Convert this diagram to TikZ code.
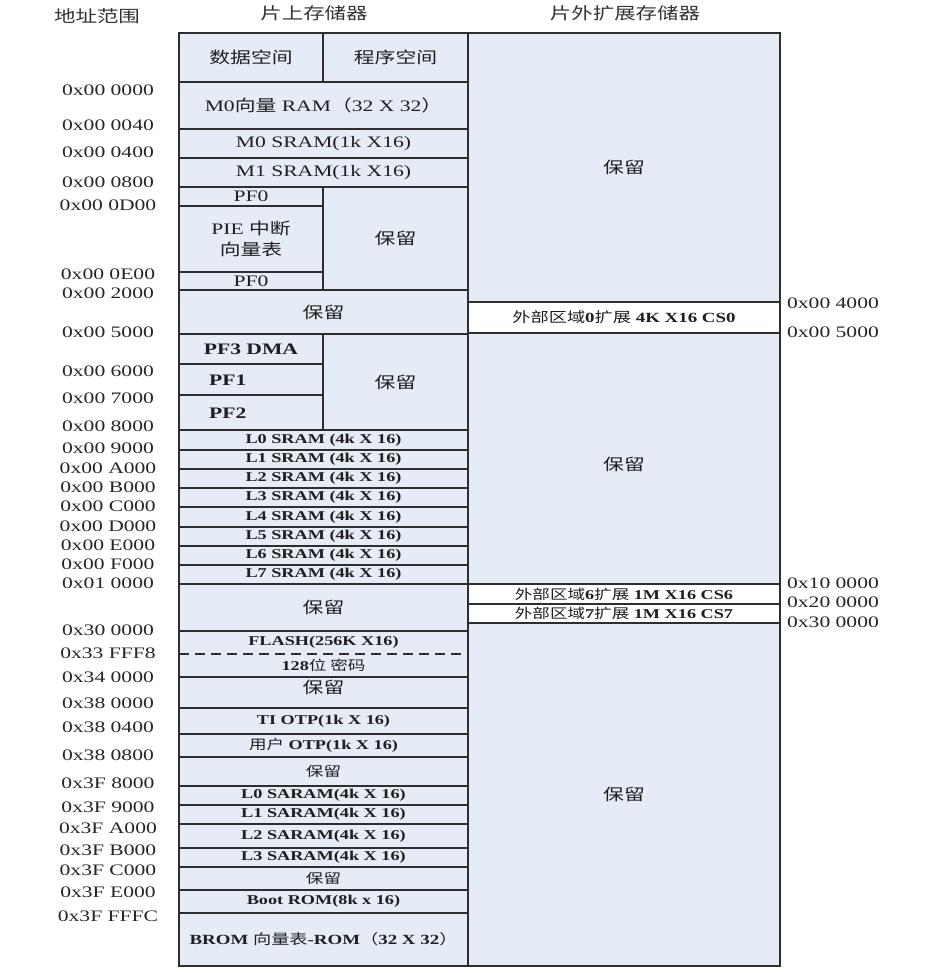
\documentclass[tikz,border=0pt]{standalone}
\usepackage{fontspec}
\setmainfont[FakeStretch=1.35]{Liberation Serif}
\newfontfamily\cjk[FakeStretch=1.3,BoldFont={Noto Sans CJK SC}]{Noto Sans CJK SC}
\newcommand\zh[1]{{\cjk #1}}
\definecolor{cellfill}{HTML}{E6ECF6}
\definecolor{linec}{HTML}{2E2E2E}
\tikzset{
  cellbox/.style={draw=linec,line width=1.6pt,fill=cellfill,inner sep=0pt,outer sep=0pt,
    align=center,text=black!88,font=\fontsize{16}{19}\selectfont},
  whitebox/.style={cellbox,fill=white},
  bsm/.style={font=\bfseries\fontsize{13.5}{15}\selectfont},
  bmid/.style={font=\bfseries\fontsize{16}{18}\selectfont},
  rsvsm/.style={font=\fontsize{13.5}{15}\selectfont},
  addr/.style={inner sep=0pt,text=black!85,font=\fontsize{16}{18}\selectfont},
  head/.style={inner sep=0pt,text=black!80,font=\fontsize{16.5}{18}\selectfont},
  txt/.style={inner sep=0pt,text=black!88,font=\fontsize{16}{18}\selectfont}
}
\newcommand\cell[7][]{%
  \node[cellbox,#1,minimum width={(#5-#3)*1pt},minimum height={(#6-#4)*1pt}]
    (#2) at ({(#3+#5)/2},{(#4+#6)/2}) {#7};}
\begin{document}
\begin{tikzpicture}[x=1pt,y=-1pt]
\useasboundingbox (0,0) rectangle (937,973);

% headings
\node[head] (h1) at (97,16) {\zh{地址范围}};
\node[head] (h2) at (314,13) {\zh{片上存储器}};
\node[head] (h3) at (625,13) {\zh{片外扩展存储器}};

% right column (external)
\cell{ext1}{468}{33}{780}{302}{\zh{保留}}
\cell[whitebox,font=\bfseries\fontsize{14}{16}\selectfont]{cs0}{468}{302}{780}{333}{\zh{外部区域}0\zh{扩展} 4K X16 CS0}
\cell{ext2}{468}{333}{780}{584}{}
\node[txt] (ext2t) at (624,464) {\zh{保留}};
\cell[whitebox,font=\bfseries\fontsize{13.5}{15}\selectfont]{cs6}{468}{584}{780}{604}{\zh{外部区域}6\zh{扩展} 1M X16 CS6}
\cell[whitebox,font=\bfseries\fontsize{13.5}{15}\selectfont]{cs7}{468}{604}{780}{623}{\zh{外部区域}7\zh{扩展} 1M X16 CS7}
\cell{ext3}{468}{623}{780}{966}{\zh{保留}}

% on-chip column
\cell{hd1}{179}{33}{323}{82}{\zh{数据空间}}
\cell{hd2}{323}{33}{468}{82}{\zh{程序空间}}
\cell{m0v}{179}{82}{468}{129}{M0\zh{向量} RAM\zh{（}32 X 32\zh{）}}
\cell{m0s}{179}{129}{468}{158}{M0 SRAM(1k X16)}
\cell{m1s}{179}{158}{468}{187}{M1 SRAM(1k X16)}
\cell{pf0a}{179}{187}{323}{206}{PF0}
\cell{pie}{179}{206}{323}{272}{PIE \zh{中断}\\[2pt]\zh{向量表}}
\cell{pf0b}{179}{272}{323}{290}{PF0}
\cell{rsv1}{323}{187}{468}{290}{\zh{保留}}
\cell{rsv2}{179}{290}{468}{334}{\zh{保留}}
\cell[bmid]{pf3}{179}{334}{323}{364}{PF3 DMA}
\cell{pf1}{179}{364}{323}{395}{}
\cell{pf2}{179}{395}{323}{430}{}
\node[txt,bmid,anchor=west] (pf1t) at (209,380) {PF1};
\node[txt,bmid,anchor=west] (pf2t) at (209,413) {PF2};
\cell{rsv3}{323}{334}{468}{430}{\zh{保留}}
\cell[bsm]{l0}{179}{430}{468}{450}{L0 SRAM (4k X 16)}
\cell[bsm]{l1}{179}{450}{468}{469}{L1 SRAM (4k X 16)}
\cell[bsm]{l2}{179}{469}{468}{488}{L2 SRAM (4k X 16)}
\cell[bsm]{l3}{179}{488}{468}{507}{L3 SRAM (4k X 16)}
\cell[bsm]{l4}{179}{507}{468}{527}{L4 SRAM (4k X 16)}
\cell[bsm]{l5}{179}{527}{468}{546}{L5 SRAM (4k X 16)}
\cell[bsm]{l6}{179}{546}{468}{565}{L6 SRAM (4k X 16)}
\cell[bsm]{l7}{179}{565}{468}{584}{L7 SRAM (4k X 16)}
\cell{rsv4}{179}{584}{468}{631}{\zh{保留}}
\cell{flash}{179}{631}{468}{677}{}
\coordinate (dl) at (179,654);
\coordinate (dr) at (468,654);
\draw[linec,line width=1.6pt,dash pattern=on 10pt off 6pt] (dl) -- (dr);
\node[txt,bsm] (flasht) at (323.5,642.5) {FLASH(256K X16)};
\node[txt,bsm] (pwdt) at (323.5,665.5) {128\zh{位 密码}};
\cell{rsv5}{179}{677}{468}{708}{}
\node[txt] (rsv5t) at (323.5,687) {\zh{保留}};
\cell[bsm]{tiotp}{179}{708}{468}{734}{TI OTP(1k X 16)}
\cell[bsm]{uotp}{179}{734}{468}{757}{\zh{用户} OTP(1k X 16)}
\cell[rsvsm]{rsv6}{179}{757}{468}{786}{\zh{保留}}
\cell[bsm]{s0}{179}{786}{468}{805}{L0 SARAM(4k X 16)}
\cell[bsm]{s1}{179}{805}{468}{824}{L1 SARAM(4k X 16)}
\cell[bsm]{s2}{179}{824}{468}{848}{L2 SARAM(4k X 16)}
\cell[bsm]{s3}{179}{848}{468}{867}{L3 SARAM(4k X 16)}
\cell[rsvsm]{rsv7}{179}{867}{468}{890}{\zh{保留}}
\cell[bsm]{boot}{179}{890}{468}{913}{Boot ROM(8k x 16)}
\cell[font=\bfseries\fontsize{14}{16}\selectfont]{brom}{179}{913}{468}{966}{BROM \zh{向量表}-ROM\zh{（}32 X 32\zh{）}}

% left addresses
\node[addr] (a01) at (108,90) {0x00 0000};
\node[addr] (a02) at (108,125) {0x00 0040};
\node[addr] (a03) at (108,152) {0x00 0400};
\node[addr] (a04) at (108,182) {0x00 0800};
\node[addr] (a05) at (108,205) {0x00 0D00};
\node[addr] (a06) at (108,274) {0x00 0E00};
\node[addr] (a07) at (108,293) {0x00 2000};
\node[addr] (a08) at (108,332) {0x00 5000};
\node[addr] (a09) at (108,371) {0x00 6000};
\node[addr] (a10) at (108,398) {0x00 7000};
\node[addr] (a11) at (108,426) {0x00 8000};
\node[addr] (a12) at (108,448) {0x00 9000};
\node[addr] (a13) at (108,468) {0x00 A000};
\node[addr] (a14) at (108,487) {0x00 B000};
\node[addr] (a15) at (108,506) {0x00 C000};
\node[addr] (a16) at (108,526) {0x00 D000};
\node[addr] (a17) at (108,545) {0x00 E000};
\node[addr] (a18) at (108,564) {0x00 F000};
\node[addr] (a19) at (108,583) {0x01 0000};
\node[addr] (a20) at (108,630) {0x30 0000};
\node[addr] (a21) at (108,653) {0x33 FFF8};
\node[addr] (a22) at (108,677) {0x34 0000};
\node[addr] (a23) at (108,703) {0x38 0000};
\node[addr] (a24) at (108,727) {0x38 0400};
\node[addr] (a25) at (108,755) {0x38 0800};
\node[addr] (a26) at (108,783) {0x3F 8000};
\node[addr] (a27) at (108,807) {0x3F 9000};
\node[addr] (a28) at (108,828) {0x3F A000};
\node[addr] (a29) at (108,850) {0x3F B000};
\node[addr] (a30) at (108,870) {0x3F C000};
\node[addr] (a31) at (108,892) {0x3F E000};
\node[addr] (a32) at (108,916) {0x3F FFFC};

% right addresses
\node[addr] (r1) at (833,303) {0x00 4000};
\node[addr] (r2) at (833,332) {0x00 5000};
\node[addr] (r3) at (833,583) {0x10 0000};
\node[addr] (r4) at (833,602) {0x20 0000};
\node[addr] (r5) at (833,622) {0x30 0000};
\end{tikzpicture}
\end{document}
